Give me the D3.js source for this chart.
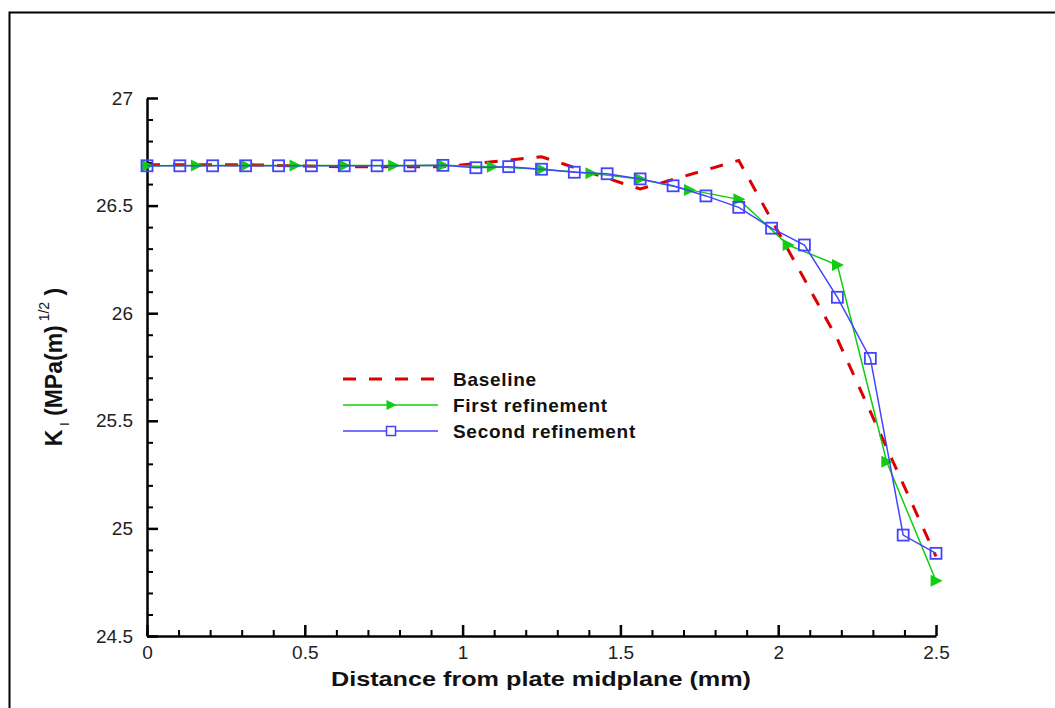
<!DOCTYPE html>
<html lang="en">
<head>
    <meta charset="UTF-8">
    <title>Stress intensity factor along crack front</title>
    <style>
        body {
            margin: 0;
            background-color: #ffffff;
            font-family: "Liberation Sans", Arial, sans-serif;
        }
        svg { display: block; }
        .tick text { font-family: "Liberation Sans", Arial, sans-serif; }
    </style>
</head>
<body>
    <svg id="chart"></svg>

    <script src="https://d3js.org/d3.v7.min.js"></script>
    <script>
        // Values (distance in mm, K_I in MPa(m)^1/2)
        const seriesNames = ['Baseline', 'First refinement', 'Second refinement'];

        const baselineX = [0, 0.3125, 0.625, 0.9375, 1.25, 1.5625, 1.875, 2.1875, 2.5];
        const baselineY = [26.69, 26.69, 26.68, 26.68, 26.727, 26.577, 26.71, 25.88, 24.87];

        const firstX = [0, 0.15625, 0.3125, 0.46875, 0.625, 0.78125, 0.9375, 1.09375, 1.25,
            1.40625, 1.5625, 1.71875, 1.875, 2.03125, 2.1875, 2.34375, 2.5];
        const firstY = [26.685, 26.686, 26.686, 26.686, 26.686, 26.686, 26.687, 26.681, 26.669,
            26.65, 26.624, 26.573, 26.529, 26.317, 26.224, 25.31, 24.757];

        const secondX = [0, 0.104, 0.208, 0.3125, 0.417, 0.521, 0.625, 0.729, 0.833, 0.9375,
            1.042, 1.146, 1.25, 1.354, 1.458, 1.5625, 1.667, 1.771, 1.875, 1.979,
            2.083, 2.1875, 2.292, 2.396, 2.5];
        const secondY = [26.685, 26.685, 26.685, 26.685, 26.685, 26.685, 26.685, 26.685, 26.685, 26.687,
            26.676, 26.681, 26.669, 26.655, 26.648, 26.624, 26.592, 26.545, 26.492, 26.395,
            26.317, 26.074, 25.79, 24.969, 24.884];

        const xTicks = [0, 0.5, 1, 1.5, 2, 2.5];
        const yTicks = [24.5, 25, 25.5, 26, 26.5, 27];
        const xTickLabels = ['0', '0.5', '1', '1.5', '2', '2.5'];
        const yTickLabels = ['24.5', '25', '25.5', '26', '26.5', '27'];

        const width = 1055;
        const height = 708;

        const svg = d3.select('#chart')
            .attr('width', width)
            .attr('height', height);

        // outer frame (top and left edges visible)
        svg.append('path')
            .attr('d', `M9.5,${height} L9.5,12.5 L${width},12.5`)
            .attr('fill', 'none')
            .attr('stroke', '#000')
            .attr('stroke-width', 2);

        const x = d3.scaleLinear().domain([0, 2.5]).range([147, 936]);
        const y = d3.scaleLinear().domain([24.5, 27]).range([636, 98]);

        const minorX = d3.range(0, 26).map(i => +(i * 0.1).toFixed(2)).filter(v => !xTicks.includes(v));
        const minorY = d3.range(0, 26).map(i => +(24.5 + i * 0.1).toFixed(2)).filter(v => !yTicks.includes(v));

        // minor ticks
        svg.append('g')
            .attr('transform', `translate(0,${y(24.5)})`)
            .call(d3.axisBottom(x).tickValues(minorX).tickSizeInner(-6).tickSizeOuter(0).tickFormat(''))
            .call(g => g.select('.domain').remove())
            .selectAll('line').attr('stroke', '#000').attr('stroke-width', 2);

        svg.append('g')
            .attr('transform', `translate(${x(0)},0)`)
            .call(d3.axisLeft(y).tickValues(minorY).tickSizeInner(-6).tickSizeOuter(0).tickFormat(''))
            .call(g => g.select('.domain').remove())
            .selectAll('line').attr('stroke', '#000').attr('stroke-width', 2);

        // major ticks with labels
        const xAxis = svg.append('g')
            .attr('transform', `translate(0,${y(24.5)})`)
            .call(d3.axisBottom(x).tickValues(xTicks).tickSizeInner(-11).tickSizeOuter(0)
                .tickPadding(10).tickFormat((d, i) => xTickLabels[i]));

        const yAxis = svg.append('g')
            .attr('transform', `translate(${x(0)},0)`)
            .call(d3.axisLeft(y).tickValues(yTicks).tickSizeInner(-11).tickSizeOuter(0)
                .tickPadding(14).tickFormat((d, i) => yTickLabels[i]));

        [xAxis, yAxis].forEach(g => {
            g.select('.domain').attr('stroke', '#000').attr('stroke-width', 2.5);
            g.selectAll('.tick line').attr('stroke', '#000').attr('stroke-width', 2.5);
            g.selectAll('.tick text')
                .attr('fill', '#222')
                .style('font-size', '19px');
        });

        // series
        const line = d3.line().x(d => x(d[0])).y(d => y(d[1]));
        const baseline = baselineX.map((v, i) => [v, baselineY[i]]);
        const first = firstX.map((v, i) => [v, firstY[i]]);
        const second = secondX.map((v, i) => [v, secondY[i]]);

        const colors = { red: '#dd0000', green: '#11cc11', blue: '#4444ff' };

        svg.append('path')
            .datum(baseline)
            .attr('d', line)
            .attr('fill', 'none')
            .attr('stroke', colors.red)
            .attr('stroke-width', 3)
            .attr('stroke-dasharray', '13,13');

        svg.append('path')
            .datum(first)
            .attr('d', line)
            .attr('fill', 'none')
            .attr('stroke', colors.green)
            .attr('stroke-width', 1.5);

        const triangle = s => `M${-s * 0.45},${-s / 2} L${s * 0.55},0 L${-s * 0.45},${s / 2} Z`;

        svg.selectAll('.tri')
            .data(first)
            .enter()
            .append('path')
            .attr('class', 'tri')
            .attr('transform', d => `translate(${x(d[0])},${y(d[1])})`)
            .attr('d', triangle(12))
            .attr('fill', colors.green);

        svg.append('path')
            .datum(second)
            .attr('d', line)
            .attr('fill', 'none')
            .attr('stroke', colors.blue)
            .attr('stroke-width', 1.5);

        svg.selectAll('.sq')
            .data(second)
            .enter()
            .append('rect')
            .attr('class', 'sq')
            .attr('x', d => x(d[0]) - 5.5)
            .attr('y', d => y(d[1]) - 5.5)
            .attr('width', 11)
            .attr('height', 11)
            .attr('fill', 'none')
            .attr('stroke', colors.blue)
            .attr('stroke-width', 1.8);

        // legend
        const legend = svg.append('g').attr('transform', 'translate(343,379)');
        const rowH = 26;
        seriesNames.forEach((name, i) => {
            const row = legend.append('g').attr('transform', `translate(0,${i * rowH})`);
            const l = row.append('line')
                .attr('x1', 0).attr('x2', 95).attr('y1', 0).attr('y2', 0);
            if (i === 0) {
                l.attr('stroke', colors.red).attr('stroke-width', 3).attr('stroke-dasharray', '13,13');
            } else if (i === 1) {
                l.attr('stroke', colors.green).attr('stroke-width', 1.5);
                row.append('path').attr('transform', 'translate(48,0)').attr('d', triangle(10)).attr('fill', colors.green);
            } else {
                l.attr('stroke', colors.blue).attr('stroke-width', 1.5);
                row.append('rect').attr('x', 43.5).attr('y', -4.5).attr('width', 9).attr('height', 9)
                    .attr('fill', '#fff').attr('stroke', colors.blue).attr('stroke-width', 1.5);
            }
            row.append('text')
                .attr('x', 110)
                .attr('y', 7)
                .style('font-size', '19px')
                .style('font-weight', 'bold')
                .style('letter-spacing', '0.7px')
                .attr('fill', '#111')
                .text(name);
        });

        // axis titles
        svg.append('text')
            .attr('x', 541)
            .attr('y', 686)
            .attr('text-anchor', 'middle')
            .attr('textLength', 420)
            .attr('lengthAdjust', 'spacingAndGlyphs')
            .style('font-size', '21px')
            .style('font-weight', 'bold')
            .attr('fill', '#111')
            .text('Distance from plate midplane (mm)');

        const yTitle = svg.append('text')
            .attr('transform', 'translate(62,367) rotate(-90)')
            .attr('text-anchor', 'middle')
            .style('font-size', '23px')
            .style('font-weight', 'bold')
            .attr('fill', '#111');
        yTitle.append('tspan').text('K');
        yTitle.append('tspan').attr('dy', 7).style('font-size', '13px').style('font-weight', 'normal').text(' I');
        yTitle.append('tspan').attr('dy', -7).text('  (MPa(m)');
        yTitle.append('tspan').attr('dy', -13).style('font-size', '14px').style('font-weight', 'normal').text(' 1/2');
        yTitle.append('tspan').attr('dy', 13).text(' )');
    </script>
</body>
</html>
